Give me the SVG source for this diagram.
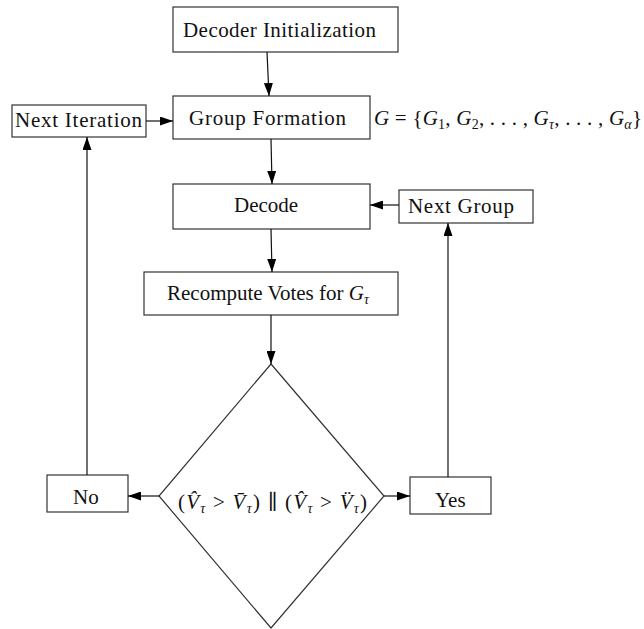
<svg xmlns="http://www.w3.org/2000/svg" width="644" height="629" viewBox="0 0 644 629">
<style>
  .box { fill: #fff; stroke: #333; stroke-width: 1.2; }
  .lbl { font-family: "Liberation Serif", "DejaVu Serif", serif; font-size: 21px; fill: #111; }
  .it { font-style: italic; }
  .sub { font-size: 14px; }
  .conn line { stroke: #111; stroke-width: 1.2; }
</style>
<defs>
  <marker id="arr" markerUnits="userSpaceOnUse" markerWidth="13" markerHeight="9" refX="13" refY="4.5" orient="auto">
    <path d="M0,0 L13,4.5 L0,9 z" fill="#000"/>
  </marker>
</defs>
<rect width="644" height="629" fill="#fff"/>

<g id="decoder-init">
  <rect class="box" x="173" y="7" width="225" height="45"/>
  <text class="lbl" x="183" y="37" textLength="193">Decoder Initialization</text>
</g>
<g id="group-formation">
  <rect class="box" x="173" y="96" width="197" height="43"/>
  <text class="lbl" x="189" y="125" textLength="157">Group Formation</text>
</g>
<g id="group-set">
  <text class="lbl" x="374" y="125" textLength="268" lengthAdjust="spacing"><tspan class="it">G</tspan> = {<tspan class="it">G</tspan><tspan class="sub" dy="4">1</tspan><tspan dy="-4">, </tspan><tspan class="it">G</tspan><tspan class="sub" dy="4">2</tspan><tspan dy="-4">, . . . , </tspan><tspan class="it">G</tspan><tspan class="sub it" dy="4">τ</tspan><tspan dy="-4">, . . . , </tspan><tspan class="it">G</tspan><tspan class="sub it" dy="4">α</tspan><tspan dy="-4">}</tspan></text>
</g>
<g id="next-iteration">
  <rect class="box" x="12" y="105" width="134" height="32"/>
  <text class="lbl" x="15" y="127" textLength="127">Next Iteration</text>
</g>
<g id="decode">
  <rect class="box" x="173" y="184" width="197" height="45"/>
  <text class="lbl" x="234" y="212" textLength="64">Decode</text>
</g>
<g id="next-group">
  <rect class="box" x="399" y="190" width="134" height="33"/>
  <text class="lbl" x="408" y="213" textLength="106">Next Group</text>
</g>
<g id="recompute">
  <rect class="box" x="144" y="272" width="254" height="43"/>
  <text class="lbl" x="167" y="300">Recompute Votes for <tspan class="it">G</tspan><tspan class="sub it" dy="4">τ</tspan></text>
</g>
<g id="decision">
  <polygon class="box" points="271,364 384,496 271,628 159,496"/>
  <text class="lbl" x="178" y="509" textLength="189" lengthAdjust="spacing">(<tspan class="it">V̂</tspan><tspan class="sub it" dy="4">τ</tspan><tspan dy="-4"> &gt; </tspan><tspan class="it">V̄</tspan><tspan class="sub it" dy="4">τ</tspan><tspan dy="-4">) ∥ (</tspan><tspan class="it">V̂</tspan><tspan class="sub it" dy="4">τ</tspan><tspan dy="-4"> &gt; </tspan><tspan class="it">V̈</tspan><tspan class="sub it" dy="4">τ</tspan><tspan dy="-4">)</tspan></text>
</g>
<g id="yes">
  <rect class="box" x="410" y="477" width="81" height="37"/>
  <text class="lbl" x="435" y="507">Yes</text>
</g>
<g id="no">
  <rect class="box" x="47" y="475" width="81" height="37"/>
  <text class="lbl" x="73" y="504">No</text>
</g>

<g id="connectors" class="conn">
  <line x1="267" y1="52" x2="269" y2="96" marker-end="url(#arr)"/>
  <line x1="146" y1="121" x2="173" y2="121" marker-end="url(#arr)"/>
  <line x1="271" y1="139" x2="272" y2="184" marker-end="url(#arr)"/>
  <line x1="399" y1="205" x2="370" y2="205" marker-end="url(#arr)"/>
  <line x1="271" y1="229" x2="272" y2="272" marker-end="url(#arr)"/>
  <line x1="271" y1="315" x2="271" y2="364" marker-end="url(#arr)"/>
  <line x1="384" y1="496" x2="410" y2="496" marker-end="url(#arr)"/>
  <line x1="448" y1="477" x2="448" y2="223" marker-end="url(#arr)"/>
  <line x1="159" y1="496" x2="128" y2="496" marker-end="url(#arr)"/>
  <line x1="87" y1="475" x2="87" y2="137" marker-end="url(#arr)"/>
</g>
</svg>
